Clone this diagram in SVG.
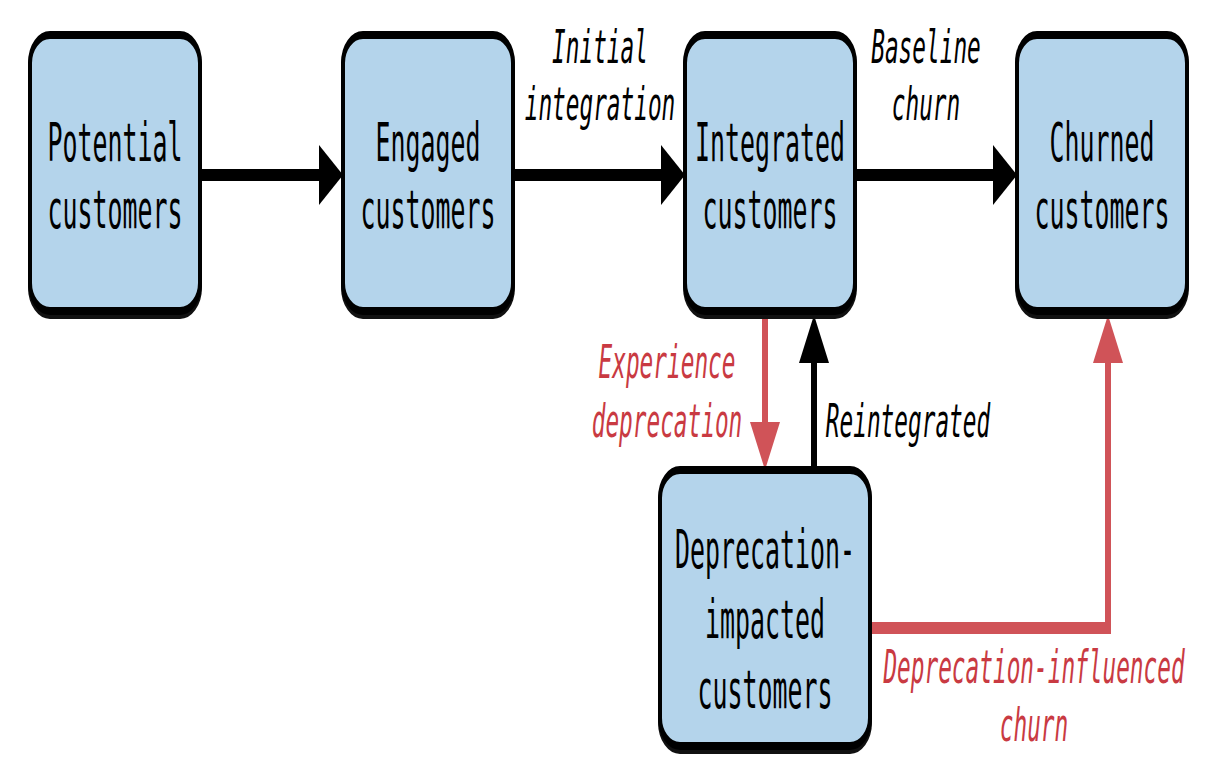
<svg xmlns="http://www.w3.org/2000/svg" width="1216" height="782" viewBox="0 0 1216 782">
<style>
.box{fill:#b4d4eb;stroke:#000;stroke-width:8}
.shadow{fill:#111;stroke:#111;stroke-width:8}
.nt{font-family:"DejaVu Sans Mono","Liberation Mono",monospace;font-size:54px;fill:#000;text-anchor:middle}
.lt{font-family:"DejaVu Sans Mono","Liberation Mono",monospace;font-size:47px;font-style:italic;text-anchor:middle}
.blk{fill:#000}
.red{fill:#c93a42}
.cb{fill:none;stroke:#000;stroke-width:12}
.cr{fill:none;stroke:#d05358;stroke-width:12}
</style>
<defs>
<marker id="ab" markerUnits="userSpaceOnUse" markerWidth="48" markerHeight="60" refX="36" refY="30" orient="auto" viewBox="0 0 48 60">
<path d="M0,0 L48,30 L0,60 z" fill="#000"/>
</marker>
<marker id="ar" markerUnits="userSpaceOnUse" markerWidth="48" markerHeight="60" refX="36" refY="30" orient="auto" viewBox="0 0 48 60">
<path d="M0,0 L48,30 L0,60 z" fill="#d05358"/>
</marker>
</defs>
<rect width="1216" height="782" fill="#fff"/>
<g id="connectors">
<g transform="scale(0.5,1)">
<path class="cb" d="M400,175 H674" marker-end="url(#ab)"/>
<path class="cb" d="M1026,175 H1358" marker-end="url(#ab)"/>
<path class="cb" d="M1710,175 H2022" marker-end="url(#ab)"/>
<path class="cr" d="M1530,319 V458" marker-end="url(#ar)"/>
<path class="cb" d="M1628,466 V327" marker-end="url(#ab)"/>
<path class="cr" d="M1744,628 H2216 V327" marker-end="url(#ar)"/>
</g>
<g transform="translate(600,0) scale(0.484,1)">
<text class="lt blk" x="0" y="63">Initial</text>
<text class="lt blk" x="0" y="120">integration</text>
</g>
<g transform="translate(926,0) scale(0.484,1)">
<text class="lt blk" x="0" y="63">Baseline</text>
<text class="lt blk" x="0" y="120">churn</text>
</g>
<g transform="translate(667,0) scale(0.484,1)">
<text class="lt red" x="0" y="378">Experience</text>
<text class="lt red" x="0" y="437">deprecation</text>
</g>
<g transform="translate(908,0) scale(0.484,1)">
<text class="lt blk" x="0" y="437">Reintegrated</text>
</g>
<g transform="translate(1034,0) scale(0.484,1)">
<text class="lt red" x="0" y="683">Deprecation-influenced</text>
<text class="lt red" x="0" y="741">churn</text>
</g>
</g>
<g id="potential">
<g transform="scale(0.5,1)">
<rect class="shadow" x="60" y="39" width="340" height="276" rx="40" ry="28"/>
<rect class="box" x="60" y="35" width="340" height="276" rx="40" ry="28"/>
</g>
<g transform="translate(115,0) scale(0.4615,1)">
<text class="nt" x="0" y="161">Potential</text>
<text class="nt" x="0" y="228">customers</text>
</g>
</g>
<g id="engaged">
<g transform="scale(0.5,1)">
<rect class="shadow" x="686" y="39" width="340" height="276" rx="40" ry="28"/>
<rect class="box" x="686" y="35" width="340" height="276" rx="40" ry="28"/>
</g>
<g transform="translate(428,0) scale(0.4615,1)">
<text class="nt" x="0" y="161">Engaged</text>
<text class="nt" x="0" y="228">customers</text>
</g>
</g>
<g id="integrated">
<g transform="scale(0.5,1)">
<rect class="shadow" x="1370" y="39" width="340" height="276" rx="40" ry="28"/>
<rect class="box" x="1370" y="35" width="340" height="276" rx="40" ry="28"/>
</g>
<g transform="translate(770,0) scale(0.4615,1)">
<text class="nt" x="0" y="161">Integrated</text>
<text class="nt" x="0" y="228">customers</text>
</g>
</g>
<g id="churned">
<g transform="scale(0.5,1)">
<rect class="shadow" x="2034" y="39" width="340" height="276" rx="40" ry="28"/>
<rect class="box" x="2034" y="35" width="340" height="276" rx="40" ry="28"/>
</g>
<g transform="translate(1102,0) scale(0.4615,1)">
<text class="nt" x="0" y="161">Churned</text>
<text class="nt" x="0" y="228">customers</text>
</g>
</g>
<g id="deprecation-impacted">
<g transform="scale(0.5,1)">
<rect class="shadow" x="1320" y="474" width="420" height="276" rx="40" ry="28"/>
<rect class="box" x="1320" y="470" width="420" height="276" rx="40" ry="28"/>
</g>
<g transform="translate(765,0) scale(0.4615,1)">
<text class="nt" x="0" y="568">Deprecation-</text>
<text class="nt" x="0" y="638">impacted</text>
<text class="nt" x="0" y="708">customers</text>
</g>
</g>
</svg>
